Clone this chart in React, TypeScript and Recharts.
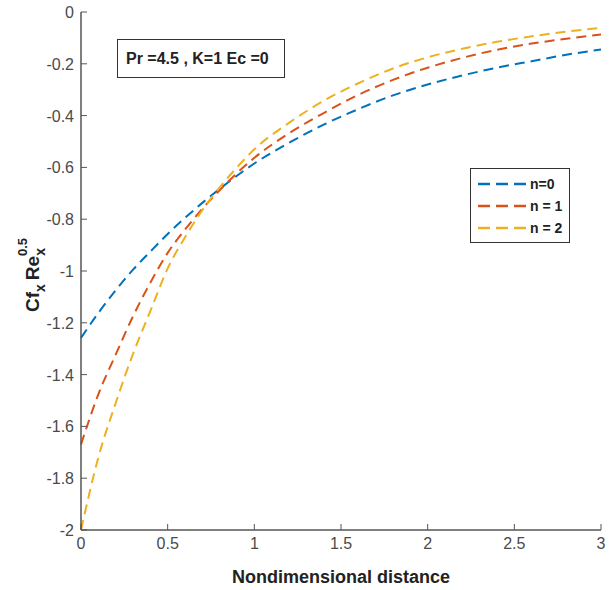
import { LineChart, Line, XAxis, YAxis } from 'recharts';

const xs = [0, 0.1, 0.2, 0.3, 0.4, 0.5, 0.6, 0.7, 0.8, 0.9, 1.0, 1.2, 1.4, 1.6, 1.8, 2.0, 2.2, 2.4, 2.6, 2.8, 3.0];
const n0 = [-1.258, -1.162, -1.075, -0.995, -0.925, -0.857, -0.795, -0.737, -0.683, -0.632, -0.585, -0.505, -0.435, -0.375, -0.322, -0.28, -0.245, -0.215, -0.19, -0.165, -0.145];
const n1 = [-1.67, -1.476, -1.323, -1.175, -1.045, -0.93, -0.84, -0.76, -0.688, -0.622, -0.563, -0.468, -0.39, -0.32, -0.262, -0.215, -0.177, -0.146, -0.122, -0.103, -0.087];
const n2 = [-2.0, -1.72, -1.51, -1.32, -1.155, -0.99, -0.87, -0.765, -0.677, -0.6, -0.53, -0.428, -0.343, -0.275, -0.218, -0.175, -0.142, -0.115, -0.094, -0.076, -0.061];

const xTicks = [0, 0.5, 1, 1.5, 2, 2.5, 3];
const yTicks = [-2, -1.8, -1.6, -1.4, -1.2, -1, -0.8, -0.6, -0.4, -0.2, 0];

const seriesNames = ['n=0', 'n = 1', 'n = 2'];
const colors = ['#0072BD', '#D95319', '#EDB120'];

const data = xs.map((x, i) => ({ x, n0: n0[i], n1: n1[i], n2: n2[i] }));

const FONT = "'Liberation Sans', Arial, sans-serif";
const AXIS = '#555';
const TICK = 6;

const BottomTick = (p: any) => (
  <g>
    <line x1={p.x} x2={p.x} y1={p.y} y2={p.y - TICK} stroke={AXIS} />
    <text x={p.x} y={p.y + 19} textAnchor="middle" fontSize={16} fill="#4a4a4a" fontFamily={FONT}>
      {String(p.payload.value)}
    </text>
  </g>
);

const TopTick = (p: any) => <line x1={p.x} x2={p.x} y1={p.y} y2={p.y + TICK} stroke={AXIS} />;

const LeftTick = (p: any) => (
  <g>
    <line x1={p.x} x2={p.x + TICK} y1={p.y} y2={p.y} stroke={AXIS} />
    <text x={p.x - 7} y={p.y + 6} textAnchor="end" fontSize={16} fill="#4a4a4a" fontFamily={FONT}>
      {String(p.payload.value)}
    </text>
  </g>
);

const RightTick = (p: any) => <line x1={p.x} x2={p.x - TICK} y1={p.y} y2={p.y} stroke={AXIS} />;

export default function App() {
  return (
    <div style={{ position: 'absolute', left: 0, top: 0, width: 609, height: 590, background: '#fff' }}>
      <LineChart width={609} height={590} data={data} margin={{ top: 12, right: 8, bottom: 0, left: 0 }}>
        <XAxis
          xAxisId="b"
          dataKey="x"
          type="number"
          domain={[0, 3]}
          ticks={xTicks}
          height={60}
          tickSize={0}
          tickMargin={0}
          tick={BottomTick}
          axisLine={{ stroke: AXIS, strokeWidth: 1.5 }}
          label={({ viewBox }: any) => (
            <text
              x={viewBox.x + 260}
              y={viewBox.y + 53}
              textAnchor="middle"
              fontSize={18}
              fontWeight="bold"
              fill="#222"
              fontFamily={FONT}
            >
              Nondimensional distance
            </text>
          )}
        />
        <XAxis
          xAxisId="t"
          orientation="top"
          dataKey="x"
          type="number"
          domain={[0, 3]}
          ticks={xTicks}
          height={0}
          tickSize={0}
          tickMargin={0}
          tick={TopTick}
          axisLine={{ stroke: AXIS, strokeWidth: 1.5 }}
        />
        <YAxis
          yAxisId="l"
          type="number"
          domain={[-2, 0]}
          ticks={yTicks}
          width={81}
          tickSize={0}
          tickMargin={0}
          tick={LeftTick}
          axisLine={{ stroke: AXIS, strokeWidth: 1.5 }}
          label={({ viewBox }: any) => {
            const cx = viewBox.x + 39;
            const cy = viewBox.y + viewBox.height / 2 + 4;
            return (
              <text
                transform={`translate(${cx},${cy}) rotate(-90)`}
                textAnchor="middle"
                fontSize={19}
                fontWeight="bold"
                fill="#222"
                fontFamily={FONT}
              >
                <tspan>Cf</tspan>
                <tspan dy={6} fontSize={14}>x</tspan>
                <tspan dy={-6} dx={4}>Re</tspan>
                <tspan dy={6} fontSize={14}>x</tspan>
                <tspan dx={-8} dy={-18} fontSize={13}>0.5</tspan>
              </text>
            );
          }}
        />
        <YAxis
          yAxisId="r"
          orientation="right"
          type="number"
          domain={[-2, 0]}
          ticks={yTicks}
          width={0}
          tickSize={0}
          tickMargin={0}
          tick={RightTick}
          axisLine={{ stroke: AXIS, strokeWidth: 1.5 }}
        />
        {['n0', 'n1', 'n2'].map((k, i) => (
          <Line
            key={k}
            xAxisId="b"
            yAxisId="l"
            type="monotone"
            dataKey={k}
            name={seriesNames[i]}
            stroke={colors[i]}
            strokeWidth={2}
            strokeDasharray="10 6"
            dot={false}
            isAnimationActive={false}
          />
        ))}
      </LineChart>
      <div
        style={{
          position: 'absolute',
          left: 117,
          top: 39,
          width: 168,
          height: 39,
          border: '1.5px solid #333',
          boxSizing: 'border-box',
          background: '#fff',
          fontFamily: FONT,
          fontWeight: 'bold',
          fontSize: 16,
          color: '#222',
          display: 'flex',
          alignItems: 'center',
          paddingLeft: 8,
          whiteSpace: 'nowrap',
        }}
      >
        Pr =4.5 , K=1 Ec =0
      </div>
      <div
        style={{
          position: 'absolute',
          left: 470,
          top: 168,
          width: 100,
          height: 75,
          border: '1.5px solid #333',
          background: '#fff',
          boxSizing: 'border-box',
          fontFamily: FONT,
          fontWeight: 'bold',
          fontSize: 14,
          color: '#222',
          padding: '4px 0 0 7px',
          whiteSpace: 'nowrap',
        }}
      >
        {seriesNames.map((name, i) => (
          <div key={name} style={{ display: 'flex', alignItems: 'center', height: 22 }}>
            <svg width={49} height={6}>
              <line x1={0} x2={49} y1={3} y2={3} stroke={colors[i]} strokeWidth={2.5} strokeDasharray="12 6" />
            </svg>
            <span style={{ marginLeft: 3 }}>{name}</span>
          </div>
        ))}
      </div>
    </div>
  );
}
